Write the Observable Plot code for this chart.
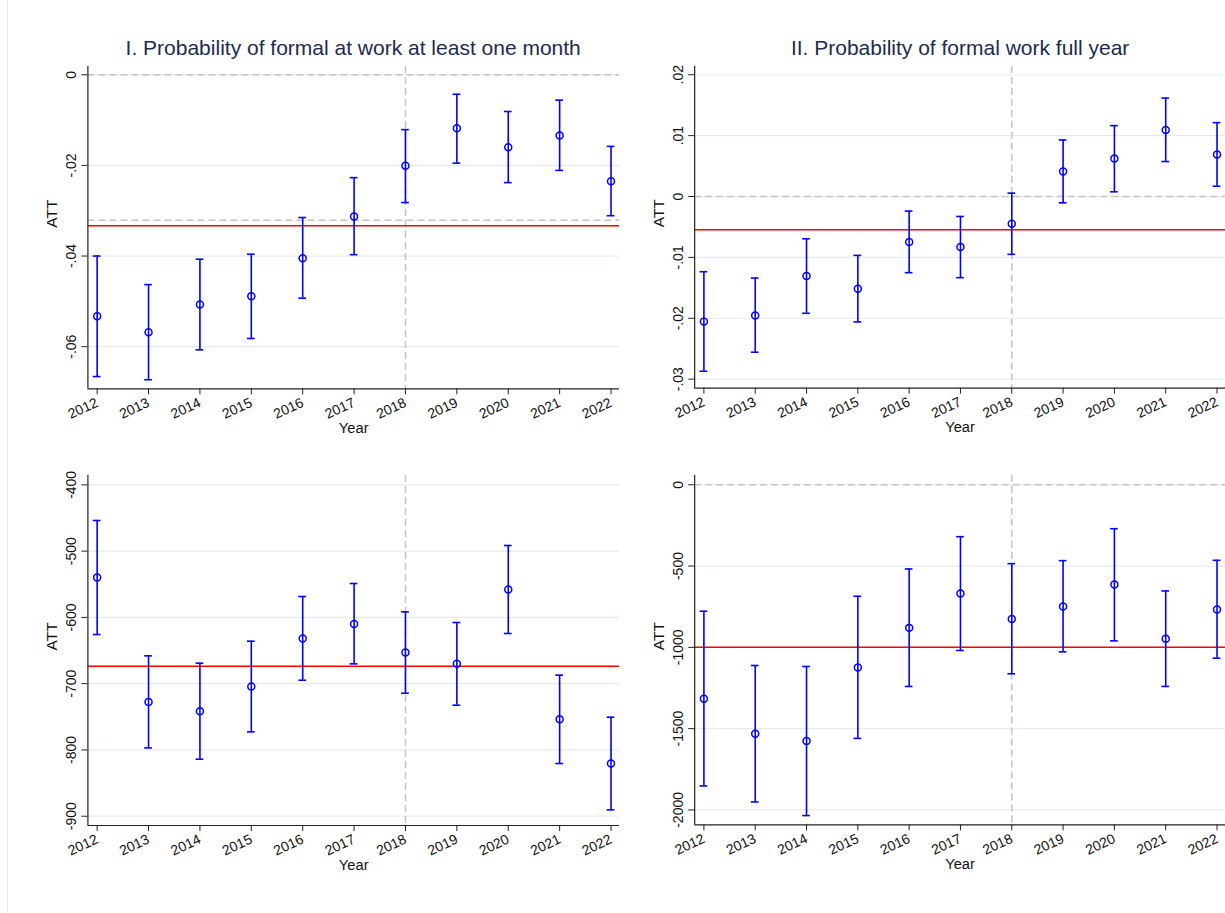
<!DOCTYPE html>
<html><head><meta charset="utf-8">
<script src="https://cdn.jsdelivr.net/npm/d3@7"></script>
<script src="https://cdn.jsdelivr.net/npm/@observablehq/plot@0.6"></script>
<style>
html,body{margin:0;padding:0;background:#fff;}
body{width:1225px;height:913px;overflow:hidden;position:relative;font-family:"Liberation Sans",Arial,sans-serif;}
.panel{position:absolute;}
.title{position:absolute;color:#1c2b4e;font-size:21px;line-height:24px;text-align:center;white-space:nowrap;transform:translateX(-50%);}
.border{position:absolute;left:7px;top:0;width:1px;height:913px;background:#e8e8e8;}
</style></head><body>
<div class="border"></div>
<div id="root"></div>
<script>
// ---- data ----
const years = [2012, 2013, 2014, 2015, 2016, 2017, 2018, 2019, 2020, 2021, 2022];
const yearLabels = ["2012","2013","2014","2015","2016","2017","2018","2019","2020","2021","2022"];
const treatYear = 2018;

// Panel I: probability of formal at work at least one month
const p1Est = [-0.0533, -0.0568, -0.0507, -0.0489, -0.0405, -0.0313, -0.0201, -0.0118, -0.0160, -0.0134, -0.0235];
const p1Lo  = [-0.0666, -0.0673, -0.0607, -0.0582, -0.0493, -0.0397, -0.0282, -0.0195, -0.0238, -0.0211, -0.0311];
const p1Hi  = [-0.0400, -0.0463, -0.0407, -0.0396, -0.0315, -0.0227, -0.0121, -0.0043, -0.0081, -0.0056, -0.0158];
const p1Avg = -0.0333;
const p1Ref = [0, -0.0321];
const p1Ticks = [0, -0.02, -0.04, -0.06];
const p1TickLabels = ["0", "-.02", "-.04", "-.06"];

// Panel II: probability of formal work full year
const p2Est = [-0.02055, -0.01956, -0.01306, -0.01514, -0.00749, -0.00831, -0.00448, 0.00410, 0.00623, 0.01093, 0.00689];
const p2Lo  = [-0.02870, -0.02557, -0.01918, -0.02060, -0.01251, -0.01333, -0.00950, -0.00104, 0.00077, 0.00574, 0.00169];
const p2Hi  = [-0.01235, -0.01339, -0.00694, -0.00967, -0.00240, -0.00328, 0.00055, 0.00929, 0.01164, 0.01617, 0.01213];
const p2Avg = -0.00546;
const p2Ref = [0];
const p2Ticks = [0.02, 0.01, 0, -0.01, -0.02, -0.03];
const p2TickLabels = [".02", ".01", "0", "-.01", "-.02", "-.03"];

// Panel III (bottom left)
const p3Est = [-539.8, -727.5, -741.5, -704.3, -631.9, -609.8, -653.0, -670.1, -558.0, -753.6, -820.5];
const p3Lo  = [-625.9, -796.9, -814.0, -772.7, -694.8, -670.1, -714.4, -732.5, -624.3, -820.5, -890.4];
const p3Hi  = [-453.8, -658.0, -669.1, -635.9, -568.5, -548.9, -591.6, -607.7, -491.5, -687.2, -750.6];
const p3Avg = -673.6;
const p3Ref = [];
const p3Ticks = [-400, -500, -600, -700, -800, -900];
const p3TickLabels = ["-400", "-500", "-600", "-700", "-800", "-900"];

// Panel IV (bottom right)
const p4Est = [-1316.3, -1531.2, -1576.3, -1123.8, -880.2, -669.4, -825.0, -749.2, -614.1, -947.8, -767.7];
const p4Lo  = [-1852.6, -1950.9, -2034.8, -1559.9, -1240.5, -1019.4, -1162.7, -1027.6, -960.1, -1240.5, -1066.5];
const p4Hi  = [-777.9, -1111.6, -1117.7, -685.8, -517.9, -319.3, -485.2, -466.7, -270.2, -653.0, -464.7];
const p4Avg = -999;
const p4Ref = [0];
const p4Ticks = [0, -500, -1000, -1500, -2000];
const p4TickLabels = ["0", "-500", "-1000", "-1500", "-2000"];

const titles = ["I. Probability of formal at work at least one month", "II. Probability of formal work full year", "", ""];

// ---- layout ----
const xDomain = [2011.82, 2022.165];
const panels = [
  {est:p1Est, lo:p1Lo, hi:p1Hi, avg:p1Avg, ref:p1Ref, ticks:p1Ticks, labels:p1TickLabels, yDomain:[-0.0693, 0.00183],
   left:0, top:0, width:620, height:450, mL:87.4, mR:1, mT:66, mB:61.7, title:titles[0]},
  {est:p2Est, lo:p2Lo, hi:p2Hi, avg:p2Avg, ref:p2Ref, ticks:p2Ticks, labels:p2TickLabels, yDomain:[-0.03148, 0.02137],
   left:612, top:0, width:614, height:450, mL:82.3, mR:0, mT:66, mB:61.7, title:titles[1]},
  {est:p3Est, lo:p3Lo, hi:p3Hi, avg:p3Avg, ref:p3Ref, ticks:p3Ticks, labels:p3TickLabels, yDomain:[-914, -385.9],
   left:0, top:450, width:620, height:463, mL:87.4, mR:1, mT:25, mB:88, title:titles[2]},
  {est:p4Est, lo:p4Lo, hi:p4Hi, avg:p4Avg, ref:p4Ref, ticks:p4Ticks, labels:p4TickLabels, yDomain:[-2092, 57.3],
   left:612, top:450, width:614, height:463, mL:82.3, mR:0, mT:25, mB:88, title:titles[3]}
];

const root = document.getElementById("root");
const blue = "#0000ff";
const capHalf = 0.075;
const tickFs = 14;

panels.forEach(p => {
  const rows = years.map((yr, i) => ({year: yr, est: p.est[i], lo: p.lo[i], hi: p.hi[i]}));
  const labelOf = new Map(p.ticks.map((t, i) => [t, p.labels[i]]));
  const yearLab = new Map(years.map((y, i) => [y, yearLabels[i]]));
  const chart = Plot.plot({
    width: p.width, height: p.height,
    marginLeft: p.mL, marginRight: p.mR, marginTop: p.mT, marginBottom: p.mB,
    style: {fontFamily: '"Liberation Sans", Arial, sans-serif', fontSize: tickFs + "px", color: "#111", background: "transparent", overflow: "visible"},
    x: {domain: xDomain, axis: null},
    y: {domain: p.yDomain, axis: null},
    marks: [
      Plot.gridY(p.ticks, {stroke: "#e4ecef", strokeOpacity: 1, strokeWidth: 1.2}),
      Plot.ruleY(p.ref, {stroke: "#c4c4c4", strokeWidth: 1.5, strokeDasharray: "7,4"}),
      Plot.ruleX([treatYear], {stroke: "#c4c4c4", strokeWidth: 1.5, strokeDasharray: "7,4"}),
      Plot.ruleY([p.avg], {stroke: "#ff0000", strokeWidth: 1.5}),
      Plot.ruleX(rows, {x: "year", y1: "lo", y2: "hi", stroke: blue, strokeWidth: 1.6}),
      Plot.ruleY(rows, {y: "lo", x1: d => d.year - capHalf, x2: d => d.year + capHalf, stroke: blue, strokeWidth: 1.6}),
      Plot.ruleY(rows, {y: "hi", x1: d => d.year - capHalf, x2: d => d.year + capHalf, stroke: blue, strokeWidth: 1.6}),
      Plot.dot(rows, {x: "year", y: "est", r: 3.5, stroke: blue, strokeWidth: 1.5, fill: "none"}),
      Plot.axisY(p.ticks, {tickSize: 6, tickRotate: -90, tickPadding: 5.5, stroke: "#222", fontSize: tickFs, tickFormat: t => labelOf.get(t), label: null, fill: "#111"}),
      Plot.axisX(years, {tickSize: 6, tickRotate: -25, tickPadding: 7, stroke: "#222", fontSize: tickFs, tickFormat: y => yearLab.get(y), label: null, fill: "#111"}),
      Plot.ruleX([xDomain[0]], {stroke: "#222", strokeWidth: 1.2}),
      Plot.ruleY([p.yDomain[0]], {stroke: "#222", strokeWidth: 1.2}),
      Plot.text(["ATT"], {frameAnchor: "left", dx: -36, rotate: -90, fontSize: 15.5, fill: "#111"}),
      Plot.text(["Year"], {frameAnchor: "bottom", dy: 44, fontSize: 14.7, fill: "#111"})
    ]
  });
  const wrap = document.createElement("div");
  wrap.className = "panel";
  wrap.style.left = p.left + "px";
  wrap.style.top = p.top + "px";
  wrap.appendChild(chart);
  root.appendChild(wrap);
  if (p.title) {
    const t = document.createElement("div");
    t.className = "title";
    t.textContent = p.title;
    t.style.left = (p.left + p.mL + (p.width - p.mL - p.mR) / 2) + "px";
    t.style.top = (p.top + 36) + "px";
    root.appendChild(t);
  }
});
</script>
</body></html>
